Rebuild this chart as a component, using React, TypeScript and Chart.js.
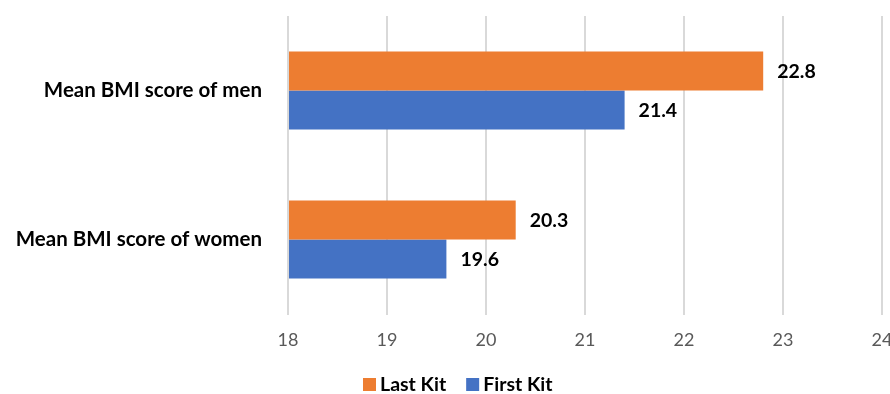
import { useEffect, useRef } from "react";
import { Chart, registerables } from "chart.js";

Chart.register(...registerables);

const categories = ["Mean BMI score of men", "Mean BMI score of women"];
const seriesNames = ["Last Kit", "First Kit"];
const lastKit = [22.8, 20.3];
const firstKit = [21.4, 19.6];
const xMin = 18;
const xMax = 24;
const xStep = 1;
const colors = ["#ED7D31", "#4472C4"];

const FONT = "Lato, 'Open Sans', sans-serif";

const dataLabelPlugin = {
  id: "dataLabels",
  afterDatasetsDraw(chart: any) {
    const ctx = chart.ctx;
    ctx.save();
    ctx.font = `bold 19.5px ${FONT}`;
    ctx.fillStyle = "#000000";
    ctx.textBaseline = "middle";
    ctx.textAlign = "left";
    chart.data.datasets.forEach((ds: any, di: number) => {
      const meta = chart.getDatasetMeta(di);
      meta.data.forEach((bar: any, i: number) => {
        ctx.fillText(Number(ds.data[i]).toFixed(1), bar.x + 14, bar.y + 1);
      });
    });
    ctx.restore();
  },
};

const legendPlugin = {
  id: "customLegend",
  afterDraw(chart: any) {
    const ctx = chart.ctx;
    ctx.save();
    ctx.font = `bold 19.5px ${FONT}`;
    ctx.textBaseline = "middle";
    ctx.textAlign = "left";
    let x = 363;
    const y = 385;
    chart.data.datasets.forEach((ds: any) => {
      ctx.fillStyle = ds.backgroundColor;
      ctx.fillRect(x, y - 7, 13, 13);
      x += 17;
      ctx.fillStyle = "#000000";
      ctx.fillText(ds.label, x, y);
      x += ctx.measureText(ds.label).width + 20;
    });
    ctx.restore();
  },
};

export default function App() {
  const ref = useRef<HTMLCanvasElement>(null);
  useEffect(() => {
    document.body.style.margin = "0";
    const chart = new Chart(ref.current!, {
      type: "bar",
      data: {
        labels: categories,
        datasets: [
          { label: seriesNames[0], data: lastKit, backgroundColor: colors[0], base: xMin } as any,
          { label: seriesNames[1], data: firstKit, backgroundColor: colors[1], base: xMin } as any,
        ],
      },
      options: {
        indexAxis: "y",
        animation: false,
        responsive: false,
        devicePixelRatio: 1,
        layout: { padding: { top: 16, right: 8, left: 0, bottom: 0 } },
        datasets: { bar: { barPercentage: 1, categoryPercentage: 78 / 149 } },
        plugins: { legend: { display: false }, tooltip: { enabled: false } },
        scales: {
          x: {
            min: xMin,
            max: xMax,
            ticks: { stepSize: xStep, color: "#595959", font: { family: FONT, size: 18 }, padding: 14 },
            grid: { color: "#d9d9d9", lineWidth: 2, drawTicks: true, tickLength: 1 },
            border: { display: false },
            afterFit: (s: any) => {
              s.height = 80;
              s.paddingLeft = 0;
              s.paddingRight = 0;
            },
          },
          y: {
            grid: { display: false, drawTicks: false },
            border: { display: false },
            ticks: { color: "#000000", font: { family: FONT, size: 20.5, weight: "bold" }, padding: 26 },
            afterFit: (s: any) => {
              s.width = 288;
              s.paddingTop = 0;
              s.paddingBottom = 0;
            },
          },
        },
      },
      plugins: [dataLabelPlugin, legendPlugin],
    });
    return () => chart.destroy();
  }, []);
  return (
    <div style={{ width: 890, height: 394, background: "#ffffff" }}>
      <canvas ref={ref} width={890} height={394} />
    </div>
  );
}
